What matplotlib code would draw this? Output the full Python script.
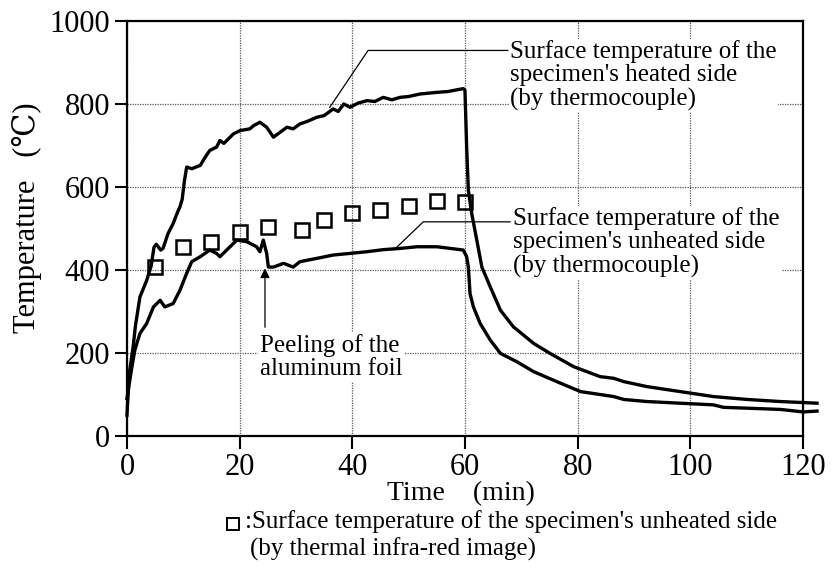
import matplotlib
matplotlib.use("Agg")
import matplotlib.pyplot as plt
from matplotlib.lines import Line2D

plt.rcParams["font.family"] = ["Liberation Serif", "DejaVu Serif"]

# Heated side (thermocouple), time in min / temperature in C
heated_t = [0, 0.4, 1.1, 1.5, 2.3, 3.5, 4.3, 4.8, 5.2, 6.0, 6.4, 7.3, 8.2, 9.0,
            9.4, 9.8, 10.2, 10.6, 11.5, 13.0, 13.9, 14.7, 15.9, 16.5, 17.2, 18.9,
            20.1, 21.8, 22.5, 23.6, 24.8, 26.0, 27.2, 28.4, 29.5, 30.7, 32.0,
            33.7, 35.0, 36.6, 37.5, 38.5, 39.6, 41.0, 42.6, 44.0, 45.5, 47.0,
            48.5, 50.0, 52.0, 53.5, 55.0, 57.0, 58.5, 59.7, 60.0, 60.3, 60.6,
            61.2, 62.1, 63.0, 64.5, 66.3, 68.6, 72.2, 75.1, 79.3, 84.0, 86.4,
            88.2, 92.3, 98.2, 104.1, 110.1, 116.0, 122.5]
heated_T = [50, 150, 215, 265, 335, 375, 410, 455, 462, 448, 452, 488, 512, 540,
            552, 570, 615, 648, 644, 652, 672, 688, 696, 712, 705, 728,
            736, 740, 748, 756, 744, 720, 732, 744, 740, 752, 758,
            768, 772, 788, 782, 800, 792, 802, 808, 806, 816, 810,
            816, 818, 824, 826, 828, 830, 834, 837, 833, 696, 592,
            536, 472, 407, 359, 303, 263, 223, 199, 167, 143, 139,
            131, 119, 107, 95, 88, 83, 79]

# Unheated side (thermocouple)
unheated_t = [0, 0.8, 1.4, 2.3, 3.5, 4.7, 5.9, 6.7, 8.2, 9.4, 10.6, 11.5, 13.0,
              14.7, 15.9, 16.5, 18.3, 19.5, 21.3, 23.0, 23.6, 24.2, 24.8, 25.1,
              26.0, 27.8, 29.5, 30.7, 33.7, 36.6, 39.6, 42.6, 45.5, 48.5, 51.5,
              55.0, 57.4, 59.7, 60.3, 60.6, 60.9, 61.5, 62.7, 64.5, 66.3, 69.2,
              72.2, 76.3, 80.5, 86.4, 88.2, 92.3, 98.2, 104.1, 105.9, 110.1,
              116.0, 120.0, 122.5]
unheated_T = [90, 160, 207, 247, 271, 311, 327, 311, 319, 351, 392, 420, 432,
              448, 440, 432, 456, 472, 468, 456, 444, 472, 440, 407,
              407, 416, 407, 420, 428, 436, 440, 444, 449, 452, 456,
              456, 452, 448, 432, 407, 343, 311, 271, 231, 199, 179,
              155, 131, 107, 95, 88, 83, 79, 75, 69, 67,
              64, 58, 60]

# Unheated side (thermal infra-red image)
ir_t = [5, 10, 15, 20, 25, 31, 35, 40, 45, 50, 55, 60]
ir_T = [407, 456, 468, 492, 504, 496, 520, 537, 544, 553, 566, 564]

fig = plt.figure(figsize=(8.32, 5.78), dpi=100)
ax = fig.add_axes([0.1526, 0.2457, 0.8125, 0.718])

ax.plot(heated_t, heated_T, color="black", lw=2.4, clip_on=False, zorder=4)
ax.plot(unheated_t, unheated_T, color="black", lw=2.4, clip_on=False, zorder=4)
ax.plot(ir_t, ir_T, linestyle="none", marker="s", markersize=10,
        markerfacecolor="none", markeredgecolor="black", markeredgewidth=1.8,
        zorder=5)

ax.set_xlim(0, 120)
ax.set_ylim(0, 1000)
ax.set_xticks(range(0, 121, 20))
ax.set_yticks(range(0, 1001, 200))
ax.grid(True, color="0.35", linestyle=(0, (1, 1)), linewidth=0.9)
ax.set_axisbelow(True)
for s in ax.spines.values():
    s.set_linewidth(1.6)
ax.tick_params(direction="out", length=9, width=1.5, labelsize=22, pad=3)

ax.set_xlabel("Time    (min)", fontsize=20)
ax.xaxis.set_label_coords(0.494, -0.108)
ax.set_ylabel("Temperature   (℃)", fontsize=22)
ax.yaxis.set_label_coords(-0.126, 0.525)

box = dict(facecolor="white", edgecolor="none", pad=1)
fs = 18

# heated side annotation
ax.plot([67.6, 42.8, 36.0], [929, 929, 792], color="black", lw=0.9, zorder=6)
ax.text(68.0, 869, "Surface temperature of the\nspecimen's heated side\n(by thermocouple)",
        fontsize=fs, ha="left", va="center", linespacing=1.08, bbox=box, zorder=7)

# unheated side annotation
ax.plot([68.0, 52.6, 47.9], [516, 516, 455], color="black", lw=0.9, zorder=6)
ax.text(68.6, 467, "Surface temperature of the\nspecimen's unheated side\n(by thermocouple)",
        fontsize=fs, ha="left", va="center", linespacing=1.08, bbox=box, zorder=7)

# peeling annotation
ax.annotate("", xy=(24.5, 404), xytext=(24.5, 262),
            arrowprops=dict(arrowstyle="-|>", color="black", lw=0.9,
                            mutation_scale=14, shrinkA=0, shrinkB=0), zorder=6)
ax.text(23.6, 190, "Peeling of the\naluminum foil", fontsize=fs, ha="left",
        va="center", linespacing=1.08, bbox=box, zorder=7)

# caption
fig.add_artist(Line2D([0.2806], [0.0934], marker="s", markersize=9,
                      markerfacecolor="none", markeredgecolor="black",
                      markeredgewidth=1.4, transform=fig.transFigure))
fig.text(0.2945, 0.0865, ":Surface temperature of the specimen's unheated side",
         fontsize=fs, ha="left", va="baseline")
fig.text(0.300, 0.039, "(by thermal infra-red image)",
         fontsize=fs, ha="left", va="baseline")

fig.savefig("out.png", dpi=100)
